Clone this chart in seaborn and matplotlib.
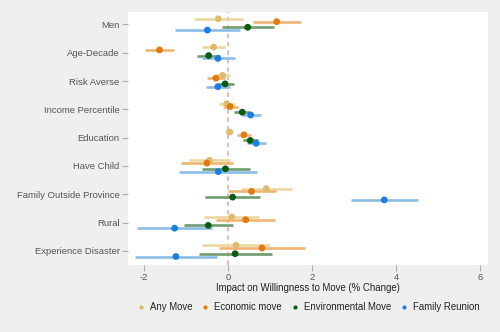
import numpy as np
import pandas as pd
import matplotlib
matplotlib.use("Agg")
import matplotlib.pyplot as plt
import seaborn as sns
from matplotlib.lines import Line2D

# Covariates (top to bottom)
variables = ["Men", "Age-Decade", "Risk Averse", "Income Percentile", "Education",
             "Have Child", "Family Outside Province", "Rural", "Experience Disaster"]
series = ["Any Move", "Economic move", "Environmental Move", "Family Reunion"]

# Point estimates (% change) per outcome
any_move_est = [-0.23, -0.34, -0.13, -0.03, 0.04, -0.44, 0.91, 0.09, 0.19]
econ_est = [1.16, -1.63, -0.29, 0.05, 0.38, -0.50, 0.56, 0.42, 0.81]
env_est = [0.47, -0.46, -0.07, 0.34, 0.53, -0.06, 0.11, -0.47, 0.17]
family_est = [-0.49, -0.24, -0.24, 0.54, 0.67, -0.23, 3.72, -1.27, -1.24]

# 95% confidence bounds
any_move_lo = [-0.80, -0.61, -0.31, -0.21, -0.06, -0.93, 0.31, -0.57, -0.61]
any_move_hi = [0.36, -0.07, 0.06, 0.17, 0.13, 0.06, 1.52, 0.74, 1.00]
econ_lo = [0.59, -1.98, -0.51, -0.13, 0.22, -1.13, 0.01, -0.29, -0.21]
econ_hi = [1.73, -1.28, -0.08, 0.23, 0.55, 0.13, 1.14, 1.13, 1.83]
env_lo = [-0.14, -0.73, -0.27, 0.15, 0.35, -0.62, -0.54, -1.04, -0.70]
env_hi = [1.10, -0.19, 0.14, 0.52, 0.71, 0.52, 0.76, 0.11, 1.05]
family_lo = [-1.26, -0.63, -0.52, 0.33, 0.46, -1.16, 2.93, -2.17, -2.21]
family_hi = [0.29, 0.17, 0.05, 0.78, 0.90, 0.70, 4.52, -0.37, -0.27]

xticks = [-2, 0, 2, 4, 6]

point_colors = ["#dcbc6c", "#e07b12", "#0b5a12", "#1a7fe0"]
line_colors = ["#ecd7a2", "#f0b574", "#6e9c70", "#8bbde6"]
offsets = [-0.2, -0.1, 0.1, 0.2]

est = [any_move_est, econ_est, env_est, family_est]
lo = [any_move_lo, econ_lo, env_lo, family_lo]
hi = [any_move_hi, econ_hi, env_hi, family_hi]

rows = []
for s, name in enumerate(series):
    for v, var in enumerate(variables):
        rows.append({"variable": var, "outcome": name, "estimate": est[s][v],
                     "lo": lo[s][v], "hi": hi[s][v], "ypos": v + offsets[s]})
df = pd.DataFrame(rows)

sns.set_theme(style="white")
plt.rcParams["font.family"] = ["Liberation Sans", "DejaVu Sans"]

bg = "#efefef"
fig = plt.figure(figsize=(5.0, 3.32), dpi=100, facecolor=bg)
ax = fig.add_axes([128 / 500, 1 - 265 / 332, (488 - 128) / 500, (265 - 12) / 332])
ax.set_facecolor("white")

ax.axvline(0, color="#e8a4a4", lw=1.1, ls=(0, (3, 2.5)), zorder=1)

for s, name in enumerate(series):
    sub = df[df["outcome"] == name]
    ax.hlines(sub["ypos"], sub["lo"], sub["hi"], color=line_colors[s], lw=1.9, zorder=2)

sns.scatterplot(data=df, x="estimate", y="ypos", hue="outcome", hue_order=series,
                palette=point_colors, s=24, edgecolor="none", legend=False,
                ax=ax, zorder=3)

ax.set_xlim(-2.38, 6.19)
ax.set_ylim(len(variables) - 0.5, -0.44)
ax.set_xticks(xticks)
ax.set_xticklabels([str(t) for t in xticks])
ax.set_yticks(range(len(variables)))
ax.set_yticklabels(variables)
ax.set_ylabel("")
ax.set_xlabel("Impact on Willingness to Move (% Change)", fontsize=6.9, color="#222222", labelpad=1)

for sp in ax.spines.values():
    sp.set_visible(False)

ax.tick_params(axis="both", which="both", length=4, width=0.8, color="#aaaaaa",
               labelsize=6.8, labelcolor="#555555", pad=2)
ax.tick_params(axis="x", bottom=True, pad=1.5)
ax.tick_params(axis="y", left=True)

# zero tick follows the reference line colour
for t, line in zip(ax.xaxis.get_major_ticks(), [None] * len(xticks)):
    if t.get_loc() == 0:
        t.tick1line.set_color("#e8a4a4")

handles = [Line2D([0], [0], marker="o", ls="", markersize=3, color=c, markeredgewidth=0)
           for c in point_colors]
fig.legend(handles, series, loc="center", bbox_to_anchor=(308 / 500, 1 - 307 / 332),
           ncol=4, frameon=False, fontsize=6.9, handletextpad=0.5, columnspacing=0.9,
           handlelength=0.9, labelcolor="#222222")

fig.savefig("out.png", dpi=100, facecolor=bg)
